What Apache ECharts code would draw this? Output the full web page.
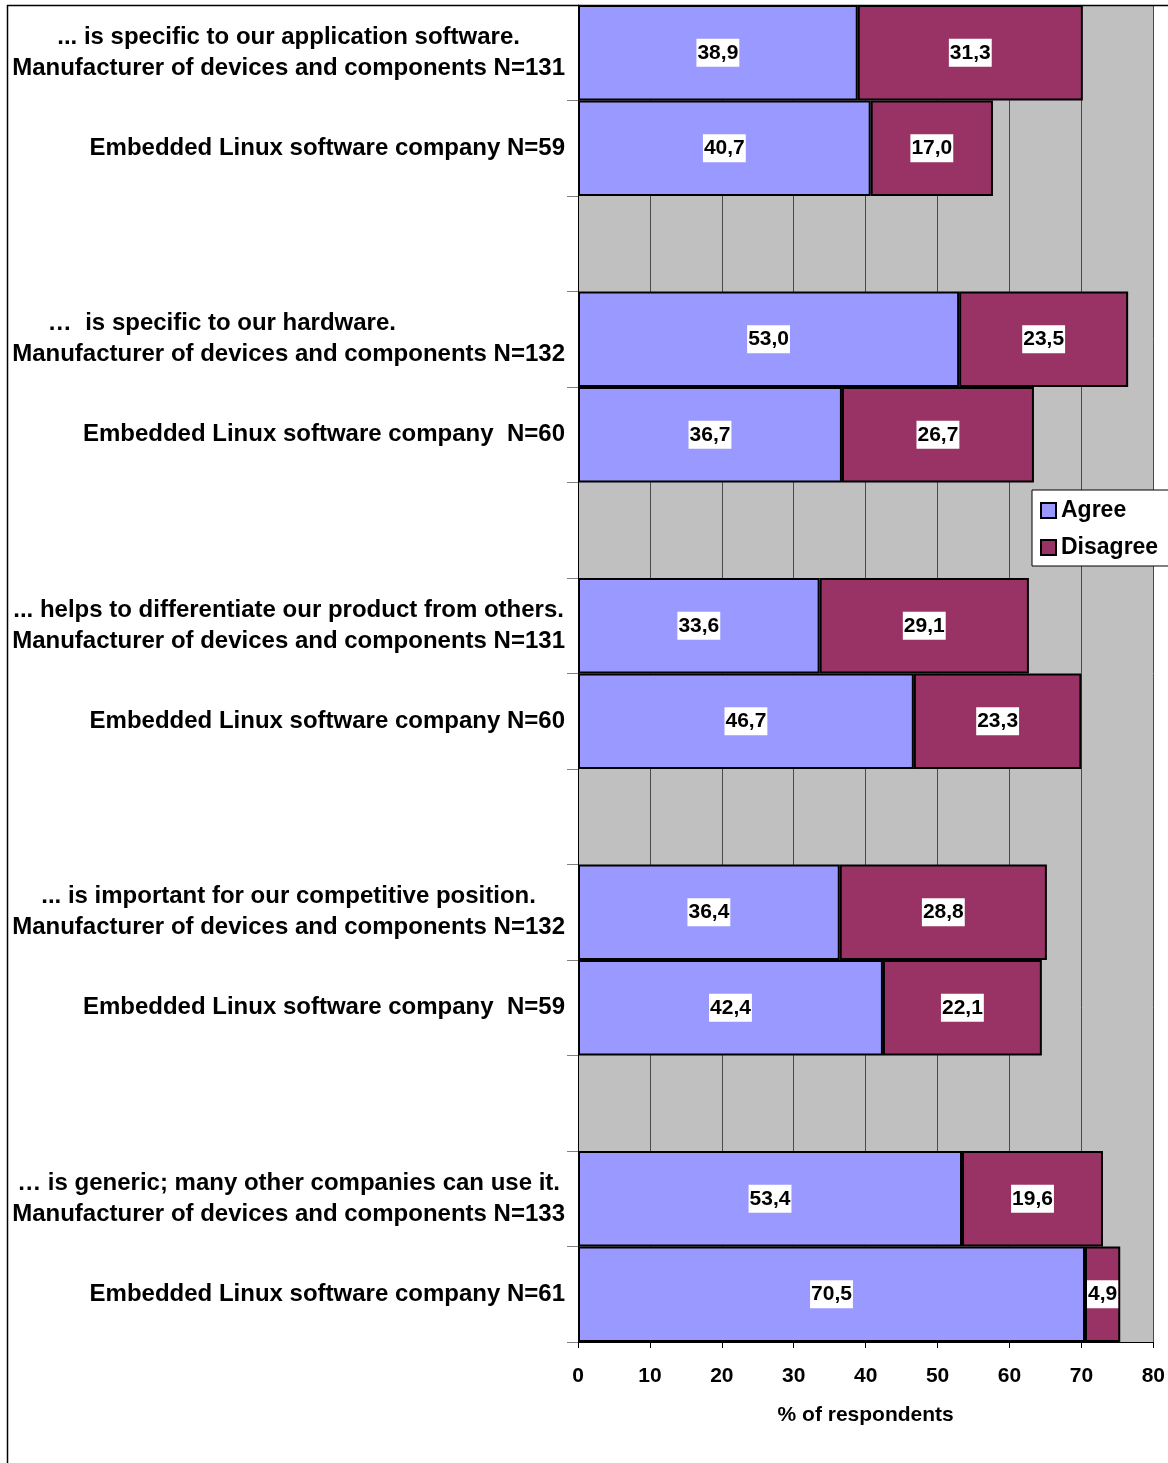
<!DOCTYPE html>
<html>
<head>
<meta charset="utf-8">
<script src="https://cdn.jsdelivr.net/npm/echarts@6/dist/echarts.min.js"></script>
<style>
  html, body { margin: 0; padding: 0; background: #fff; }
  #chart { width: 1168px; height: 1463px; }
</style>
</head>
<body>
<div id="chart"></div>
<script>
const categories = [
  '... is specific to our application software.\nManufacturer of devices and components N=131',
  'Embedded Linux software company N=59',
  '',
  '\u2026  is specific to our hardware.                    \nManufacturer of devices and components N=132',
  'Embedded Linux software company  N=60',
  '',
  '... helps to differentiate our product from others.\nManufacturer of devices and components N=131',
  'Embedded Linux software company N=60',
  '',
  '... is important for our competitive position.\nManufacturer of devices and components N=132',
  'Embedded Linux software company  N=59',
  '',
  '\u2026 is generic; many other companies can use it.\nManufacturer of devices and components N=133',
  'Embedded Linux software company N=61'
];
const agree =    [38.9, 40.7, null, 53.0, 36.7, null, 33.6, 46.7, null, 36.4, 42.4, null, 53.4, 70.5];
const disagree = [31.3, 17.0, null, 23.5, 26.7, null, 29.1, 23.3, null, 28.8, 22.1, null, 19.6, 4.9];
const xTicks = [0, 10, 20, 30, 40, 50, 60, 70, 80];
const seriesNames = ['Agree', 'Disagree'];

const FONT = '"Liberation Sans", Arial, sans-serif';
const chart = echarts.init(document.getElementById('chart'), null, { renderer: 'canvas' });

const labelFmt = p => (p.value == null ? '' : Number(p.value).toFixed(1).replace('.', ','));
const barLabel = {
  show: true,
  position: 'inside',
  formatter: labelFmt,
  color: '#000',
  fontFamily: FONT,
  fontWeight: 'bold',
  fontSize: 21,
  backgroundColor: '#fff',
  padding: [4, 1, 3, 1]
};

chart.setOption({
  animation: false,
  backgroundColor: '#fff',
  textStyle: { fontFamily: FONT },
  grid: {
    left: 578, right: 12, top: 5, bottom: 121,
    show: true, backgroundColor: '#C0C0C0', borderWidth: 0
  },
  legend: {
    data: seriesNames,
    orient: 'vertical',
    left: 1032, top: 490,
    backgroundColor: '#fff',
    borderColor: '#000',
    borderWidth: 1,
    borderRadius: 0,
    padding: [9, 30, 7, 8],
    itemGap: 14,
    itemWidth: 15, itemHeight: 15,
    icon: 'rect',
    textStyle: { fontFamily: FONT, fontWeight: 'bold', fontSize: 23, color: '#000' }
  },
  xAxis: {
    type: 'value',
    min: xTicks[0], max: xTicks[xTicks.length - 1], interval: 10,
    name: '% of respondents',
    nameLocation: 'middle',
    nameGap: 63,
    nameTextStyle: { fontFamily: FONT, fontWeight: 'bold', fontSize: 21, color: '#000' },
    axisLine: { show: true, lineStyle: { color: '#000', width: 1 } },
    axisTick: { show: true, length: 6, lineStyle: { color: '#000' } },
    axisLabel: { margin: 24, fontFamily: FONT, fontWeight: 'bold', fontSize: 21, color: '#000' },
    splitLine: { show: true, lineStyle: { color: '#4a4a4a', width: 1 } }
  },
  yAxis: {
    type: 'category',
    inverse: true,
    data: categories,
    axisLine: { show: true, lineStyle: { color: '#000', width: 1 } },
    axisTick: { show: true, length: 11, lineStyle: { color: '#808080' } },
    axisLabel: {
      margin: 13,
      interval: 0,
      color: '#000',
      fontFamily: FONT,
      fontWeight: 'bold',
      fontSize: 24,
      formatter: v => {
        if (!v) return '';
        if (v.indexOf('\n') >= 0) return v.split('\n').map(l => '{c|' + l + '}').join('\n');
        return '{r|' + v + '}';
      },
      rich: {
        c: { align: 'center', fontFamily: FONT, fontWeight: 'bold', fontSize: 24, color: '#000', lineHeight: 31 },
        r: { fontFamily: FONT, fontWeight: 'bold', fontSize: 24, color: '#000' }
      }
    },
    splitLine: { show: false }
  },
  series: [
    {
      name: seriesNames[0], type: 'bar', stack: 'total',
      data: agree,
      barCategoryGap: '0%',
      itemStyle: { color: '#9999FF', borderColor: '#000', borderWidth: 2 },
      label: barLabel
    },
    {
      name: seriesNames[1], type: 'bar', stack: 'total',
      data: disagree,
      barCategoryGap: '0%',
      itemStyle: { color: '#993366', borderColor: '#000', borderWidth: 2 },
      label: barLabel
    }
  ],
  graphic: [
    { type: 'line', shape: { x1: 7.5, y1: 5, x2: 7.5, y2: 1463 }, style: { stroke: '#000', lineWidth: 1.5 }, z: 10 },
    { type: 'line', shape: { x1: 7, y1: 5.5, x2: 1168, y2: 5.5 }, style: { stroke: '#000', lineWidth: 1.5 }, z: 10 }
  ]
});
</script>
</body>
</html>
